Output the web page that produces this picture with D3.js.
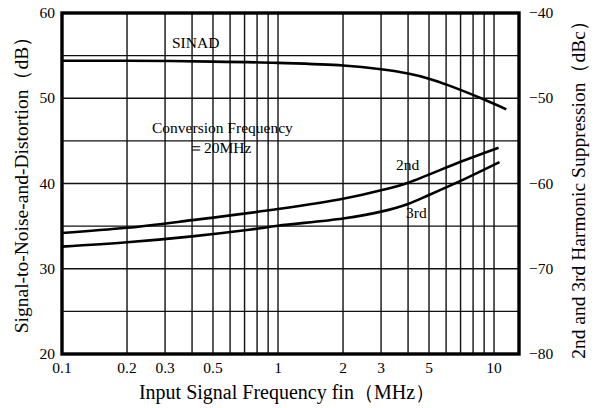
<!DOCTYPE html>
<html><head><meta charset="utf-8">
<script src="https://cdn.jsdelivr.net/npm/d3@7"></script>
<style>
html,body{margin:0;padding:0;background:#fff;}
text{font-family:"Liberation Serif","Times New Roman",serif;fill:#000;}
</style></head>
<body><svg id="c" width="599" height="408"></svg>
<script>
// Data (frequency in MHz, left axis dB; harmonics read on right axis dBc)
const sinadFreq = [0.1, 0.2, 0.5, 1, 2, 3, 4, 5, 6.25, 9, 11.4];
const sinadDb   = [54.4, 54.4, 54.3, 54.15, 53.85, 53.4, 52.9, 52.3, 51.45, 49.85, 48.7];
const h2Freq = [0.1, 0.2, 0.4, 1, 2, 3, 4, 7, 10.5];
const h2Dbc  = [-65.8, -65.2, -64.3, -63.0, -61.8, -60.8, -59.9, -57.45, -55.8];
const h3Freq = [0.1, 0.2, 0.4, 0.75, 1, 2, 3, 4, 5, 7, 10.6];
const h3Dbc  = [-67.4, -66.9, -66.2, -65.4, -64.95, -64.1, -63.3, -62.4, -61.35, -59.7, -57.5];
const xTickVals = [0.1, 0.2, 0.3, 0.5, 1, 2, 3, 5, 10];
const xTickLabels = ["0.1", "0.2", "0.3", "0.5", "1", "2", "3", "5", "10"];
const xGrid = [0.2,0.3,0.4,0.5,0.6,0.7,0.8,0.9,1,2,3,4,5,6,7,8,9,10];
const leftTicks = [20, 30, 40, 50, 60];
const rightTicks = [-40, -50, -60, -70, -80];
const yGrid = [25, 30, 35, 40, 45, 50, 55];

const svg = d3.select("#c");
const L = 62, R = 519, T = 13, B = 354;
const x = d3.scaleLog().domain([0.1, 13.05]).range([L, R]);
const yL = d3.scaleLinear().domain([20, 60]).range([B, T]);
const yR = d3.scaleLinear().domain([-80, -40]).range([B, T]);

// grid
svg.append("g").selectAll("line").data(xGrid).join("line")
  .attr("x1", d => x(d)).attr("x2", d => x(d)).attr("y1", T).attr("y2", B)
  .attr("stroke", "#111").attr("stroke-width", 1.4);
svg.append("g").selectAll("line").data(yGrid).join("line")
  .attr("x1", L).attr("x2", R).attr("y1", d => yL(d)).attr("y2", d => yL(d))
  .attr("stroke", "#111").attr("stroke-width", 1.4);

// frame
svg.append("rect").attr("x", L).attr("y", T).attr("width", R - L).attr("height", B - T)
  .attr("fill", "none").attr("stroke", "#000").attr("stroke-width", 3.4);

// curves
const lineL = d3.line().x(d => x(d[0])).y(d => yL(d[1])).curve(d3.curveCatmullRom.alpha(0.5));
const lineR = d3.line().x(d => x(d[0])).y(d => yR(d[1])).curve(d3.curveCatmullRom.alpha(0.5));
svg.append("path").attr("d", lineL(d3.zip(sinadFreq, sinadDb)))
  .attr("fill", "none").attr("stroke", "#000").attr("stroke-width", 2.6);
svg.append("path").attr("d", lineR(d3.zip(h2Freq, h2Dbc)))
  .attr("fill", "none").attr("stroke", "#000").attr("stroke-width", 2.6);
svg.append("path").attr("d", lineR(d3.zip(h3Freq, h3Dbc)))
  .attr("fill", "none").attr("stroke", "#000").attr("stroke-width", 2.6);

// axes labels
const fs = 15.5;
svg.append("g").selectAll("text").data(xTickVals).join("text")
  .attr("x", d => x(d)).attr("y", 373).attr("text-anchor", "middle")
  .attr("font-size", fs).text((d, i) => xTickLabels[i]);
svg.append("g").selectAll("text").data(leftTicks).join("text")
  .attr("x", 55).attr("y", d => yL(d) + 5).attr("text-anchor", "end")
  .attr("font-size", fs).text(d => d);
svg.append("g").selectAll("text").data(rightTicks).join("text")
  .attr("x", 529).attr("y", d => yR(d) + 5).attr("text-anchor", "start")
  .attr("font-size", fs).text(d => "\u2212" + Math.abs(d));

// titles
svg.append("text").attr("x", 287).attr("y", 399).attr("text-anchor", "middle")
  .attr("font-size", 20).text("Input Signal Frequency  fin（MHz）");
svg.append("text").attr("transform", "translate(28,180) rotate(-90)").attr("text-anchor", "middle")
  .attr("font-size", 19.5).text("Signal-to-Noise-and-Distortion（dB）");
svg.append("text").attr("transform", "translate(585,185) rotate(-90)").attr("text-anchor", "middle")
  .attr("font-size", 19.5).text("2nd and 3rd Harmonic Suppression（dBc）");

// annotations
svg.append("text").attr("x", 172).attr("y", 48).attr("font-size", 15.5).text("SINAD");
svg.append("text").attr("x", 152).attr("y", 133).attr("font-size", 15.5).text("Conversion Frequency");
svg.append("text").attr("x", 188).attr("y", 153).attr("font-size", 15.5).text("＝20MHz");
svg.append("text").attr("x", 396).attr("y", 170).attr("font-size", 15.5).text("2nd");
svg.append("text").attr("x", 406).attr("y", 218).attr("font-size", 15.5).text("3rd");
</script></body></html>
